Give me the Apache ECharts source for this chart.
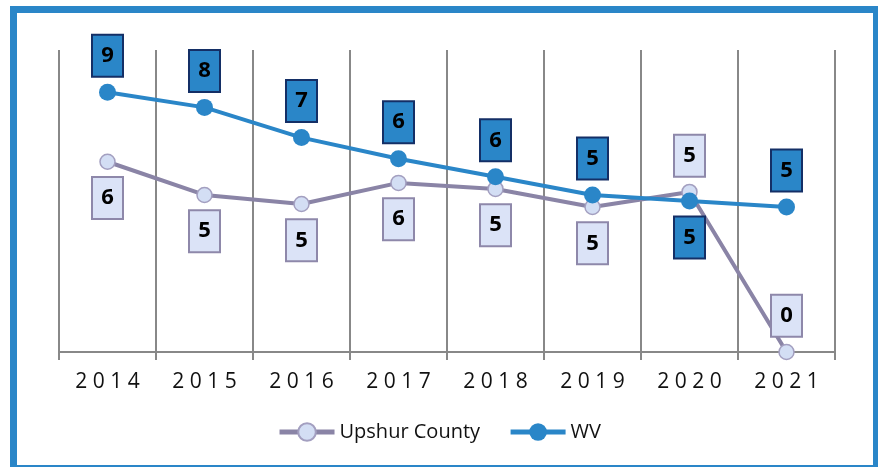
<!DOCTYPE html>
<html>
<head>
<meta charset="utf-8">
<script src="https://cdn.jsdelivr.net/npm/echarts@6/dist/echarts.min.js"></script>
<style>
  html, body { margin: 0; padding: 0; background: #fff; }
  #frame {
    position: absolute; left: 10px; top: 6px; width: 870px; height: 466px;
    box-sizing: border-box; border: 7px solid #2a86c8;
  }
  #main { position: absolute; left: 0; top: 0; width: 878px; height: 467px; }
</style>
</head>
<body>
<div id="frame"></div>
<div id="main"></div>
<script>
// 年份
var years = ['2014', '2015', '2016', '2017', '2018', '2019', '2020', '2021'];
// Upshur County
var upshur = [6.3, 5.2, 4.9, 5.6, 5.4, 4.8, 5.3, 0];
// WV
var wv = [8.6, 8.1, 7.1, 6.4, 5.8, 5.2, 5.0, 4.8];
// 标签在上还是在下
var upshurLabelPos = ['bottom', 'bottom', 'bottom', 'bottom', 'bottom', 'bottom', 'top', 'top'];
var wvLabelPos = ['top', 'top', 'top', 'top', 'top', 'top', 'bottom', 'top'];

var boxLabel = function (bg, border) {
    return {
        show: true,
        formatter: function (p) { return Math.round(p.value); },
        color: '#000',
        fontSize: 22,
        fontWeight: 'bold',
        fontFamily: 'Open Sans',
        backgroundColor: bg,
        borderColor: border,
        borderWidth: 2,
        width: 17,
        height: 26,
        lineHeight: 26,
        align: 'center',
        padding: [7, 6],
        distance: 8
    };
};

var chartDom = document.getElementById('main');
var myChart = echarts.init(chartDom);
var option;

option = {
    animation: false,
    grid: { left: 59, right: 43, top: 50, bottom: 115 },
    legend: {
        bottom: 20,
        left: 'center',
        itemWidth: 55,
        itemHeight: 22,
        itemGap: 28,
        lineStyle: { width: 5 },
        textStyle: { fontSize: 20, color: '#111', fontFamily: 'Open Sans' },
        data: ['Upshur County', 'WV']
    },
    xAxis: {
        type: 'category',
        data: years,
        axisLine: { lineStyle: { color: '#888', width: 2 } },
        axisTick: { show: true, length: 8, lineStyle: { color: '#888', width: 2 } },
        splitLine: { show: true, lineStyle: { color: '#888', width: 2 } },
        axisLabel: {
            margin: 20,
            fontSize: 21,
            color: '#111',
            fontFamily: 'Open Sans',
            formatter: function (v) { return v.split('').join(' '); }
        }
    },
    yAxis: {
        type: 'value',
        min: 0,
        max: 10,
        show: false,
        splitLine: { show: false }
    },
    series: [
        {
            name: 'Upshur County',
            type: 'line',
            data: upshur.map(function (v, i) {
                return { value: v, label: { position: upshurLabelPos[i] } };
            }),
            symbol: 'circle',
            symbolSize: 15,
            z: 2,
            lineStyle: { color: '#8a84a6', width: 4 },
            itemStyle: { color: '#d3def4', borderColor: '#a39fc0', borderWidth: 1.5 },
            label: boxLabel('#dbe3f7', '#8e88aa')
        },
        {
            name: 'WV',
            type: 'line',
            data: wv.map(function (v, i) {
                return { value: v, label: { position: wvLabelPos[i] } };
            }),
            symbol: 'circle',
            symbolSize: 17,
            z: 3,
            lineStyle: { color: '#2a86c8', width: 4 },
            itemStyle: { color: '#2a86c8', borderColor: '#2a86c8', borderWidth: 0 },
            label: boxLabel('#2a86c8', '#142f66')
        }
    ]
};

option && myChart.setOption(option);
</script>
</body>
</html>
